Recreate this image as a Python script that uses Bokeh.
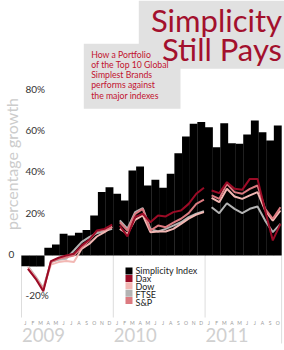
import math
from bokeh.plotting import figure
from bokeh.models import Range1d
from bokeh.core.properties import value
from bokeh.embed import file_html
from bokeh.resources import INLINE

# ---------------- data ----------------
years = ["2009", "2010", "2011"]
month_letters = ["J", "F", "M", "A", "M", "J", "J", "A", "S", "O", "N", "D"]

# Simplicity Index, monthly % growth, Jan 2009 .. Oct 2011
simplicity = [-5.2, -5.3, -5.3, 3.7, 5.3, 10.5, 9.7, 11.0, 12.4, 19.4, 30.7, 33.1,
              29.9, 26.6, 41.2, 43.1, 33.9, 36.7, 32.8, 39.6, 49.5, 57.6, 63.8, 64.6,
              62.1, 52.4, 64.1, 54.4, 54.1, 58.6, 65.4, 59.7, 55.7, 63.0]

dax = [-6.5, -11.3, -17.3, -2.7, -1.1, 0.0, 0.8, 4.8, 7.6, 12.1, 12.9, 15.0,
       14.5, 9.2, 18.6, 20.2, 16.1, 19.4, 18.9, 21.0, 21.8, 25.0, 29.9, 32.8,
       31.5, 30.2, 35.5, 32.3, 31.8, 37.1, 37.1, 21.8, 7.3, 15.3]
sp = [-6.5, -10.8, -16.6, -3.2, -1.6, -0.8, 0.0, 4.0, 7.3, 11.8, 12.4, 13.7,
      16.1, 12.1, 20.2, 22.6, 12.1, 14.5, 13.7, 15.9, 17.8, 20.5, 25.0, 27.0,
      29.1, 27.4, 34.7, 30.7, 29.9, 32.3, 33.9, 22.6, 17.8, 23.4]
dow = [-5.6, -10.8, -16.1, -4.4, -3.2, -2.7, -3.2, 3.2, 5.6, 9.2, 11.3, 14.0,
       12.9, 10.5, 17.3, 19.4, 11.3, 11.6, 11.6, 12.9, 15.3, 17.8, 19.8, 21.0,
       27.9, 25.8, 32.3, 28.6, 27.4, 29.1, 30.7, 21.8, 16.9, 21.8]
ftse = [-5.2, -10.2, -15.6, -3.2, -2.1, -1.6, 2.4, 6.5, 8.9, 10.8, 11.8, 12.9,
        17.0, 13.0, 21.0, 22.9, 12.9, 11.6, 12.9, 14.5, 16.1, 18.6, 20.2, 21.5,
        23.4, 20.5, 25.3, 22.6, 20.5, 22.6, 23.7, 16.9, 11.3, 15.3]

series_names = ["Simplicity Index", "Dax", "Dow", "FTSE", "S&P"]
series_colors = ["#000000", "#9b0b26", "#f2b7b3", "#b3b3b3", "#dc7a80"]

y_ticks = [80, 60, 40, 20, 0, -20]
y_tick_labels = ["80%", "60%", "40%", "20%", "0", "-20%"]

title_lines = ["Simplicity", "Still Pays"]
subtitle_lines = ["How a Portfolio", "of the Top 10 Global", "Simplest Brands",
                  "performs against", "the major indexes"]
y_title = "percentage growth"

# ---------------- layout helpers ----------------
W, H = 284, 350
LEFT_PX, MONTH_PX, ZERO_PX, PCT_PX = 21.0, 7.65, 255.0, 2.065
X0 = -LEFT_PX / MONTH_PX
X1 = X0 + W / MONTH_PX
Y1 = ZERO_PX / PCT_PX
Y0 = Y1 - H / PCT_PX


def dx(px):
    return X0 + px / MONTH_PX


def dy(py):
    return Y1 - py / PCT_PX


LATO = value("Lato")
RED = "#a3102d"
BOX = "#e1e1e1"

p = figure(width=W, height=H, output_backend="svg", toolbar_location=None,
           x_range=Range1d(X0, X1), y_range=Range1d(Y0, Y1),
           x_axis_type=None, y_axis_type=None,
           min_border=0, min_border_left=0, min_border_right=0,
           min_border_top=0, min_border_bottom=0)
p.outline_line_color = None
p.grid.visible = False
p.background_fill_color = "white"
p.border_fill_color = "white"

n = len(simplicity)
months = list(range(n))

# year separators
year_starts = [12 * i for i in range(len(years))]
p.segment(x0=year_starts, y0=[0] * len(years), x1=year_starts,
          y1=[dy(317)] * len(years), line_color="#dddddd", line_width=1)
p.segment(x0=[n], y0=[0], x1=[n], y1=[dy(343)], line_color="#dddddd", line_width=1)

# bars
p.vbar(x=[m + 0.5 for m in months], top=simplicity, bottom=0, width=1.03,
       fill_color=series_colors[0], line_color=None)

# lines, broken at year boundaries
def broken(vals):
    xs, ys = [], []
    for m, v in zip(months, vals):
        if m > 0 and m % 12 == 0:
            xs.append(float("nan"))
            ys.append(float("nan"))
        xs.append(m + 0.85)
        ys.append(v)
    return xs, ys

for vals, col in [(ftse, series_colors[3]), (dow, series_colors[2]),
                  (sp, series_colors[4]), (dax, series_colors[1])]:
    xs, ys = broken(vals)
    p.line(xs, ys, line_color=col, line_width=2)

# title boxes
p.quad(left=[dx(138.3)], right=[dx(284)], top=[dy(0)], bottom=[dy(68.3)],
       fill_color=BOX, line_color=None)
p.quad(left=[dx(83.3)], right=[dx(180)], top=[dy(43.3)], bottom=[dy(108.3)],
       fill_color=BOX, line_color=None)

p.text(x=[dx(281.5)] * 2, y=[dy(19.5), dy(48)], text=title_lines,
       text_align="right", text_baseline="middle", text_font=LATO,
       text_font_size="31px", text_color=RED)

p.text(x=[dx(90.7)] * len(subtitle_lines),
       y=[dy(53.5 + 10.33 * i) for i in range(len(subtitle_lines))],
       text=subtitle_lines, text_align="left", text_baseline="middle",
       text_font=LATO, text_font_size="8.7px", text_color="#c1122f")

# y title
p.text(x=[dx(10.5)], y=[dy(163.5)], text=[y_title], angle=math.pi / 2,
       text_align="center", text_baseline="middle", text_font=LATO,
       text_font_size="16px", text_color="#cccccc")

# y tick labels
p.text(x=[dx(8) if t == 0 else dx(25) for t in y_ticks], y=y_ticks,
       text=y_tick_labels, text_align="left", text_baseline="middle",
       y_offset=-1.5, text_font=LATO, text_font_size="10px", text_color="#333333")

# month letters
p.text(x=[m + 0.5 for m in months], y=[dy(322)] * n,
       text=[month_letters[m % 12] for m in months], text_align="center",
       text_baseline="middle", text_font=LATO, text_font_size="5px",
       text_color="#999999")

# years
p.text(x=year_starts, y=[dy(334.5)] * len(years), text=years, x_offset=0.5,
       text_align="left", text_baseline="middle",
       text_font=LATO, text_font_size="18.5px", text_color="#d0d0d0")

# legend
k = len(series_names)
p.rect(x=[dx(128.5)] * k, y=[dy(270.5 + 7.4 * i) for i in range(k)],
       width=7 / MONTH_PX, height=7 / PCT_PX, fill_color=series_colors,
       line_color=None)
p.text(x=[dx(135)] * k, y=[dy(270 + 8 * i) for i in range(k)], text=series_names,
       text_align="left", text_baseline="middle", text_font=LATO,
       text_font_size="9px", text_color="#222222")

open("out.html", "w").write(file_html(p, INLINE))
